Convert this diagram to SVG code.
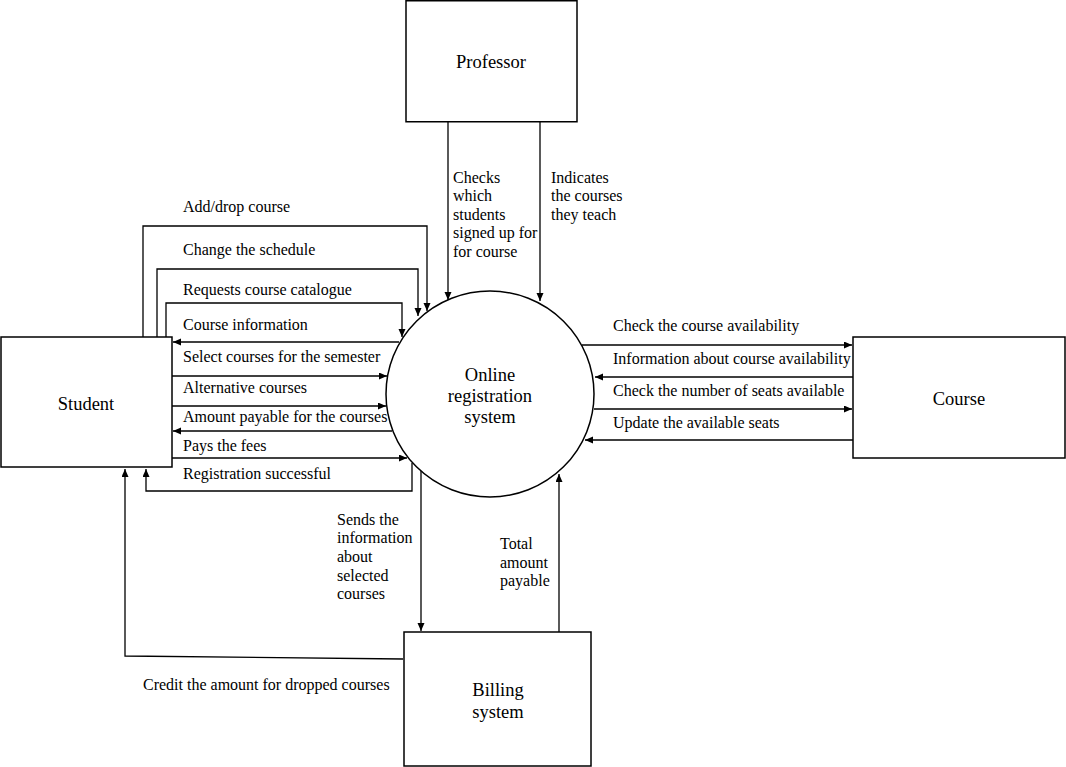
<svg xmlns="http://www.w3.org/2000/svg" width="1066" height="767" viewBox="0 0 1066 767">
<style>
.box{fill:#fff;stroke:#000;stroke-width:1.5}
.ln{fill:none;stroke:#000;stroke-width:1.3;marker-end:url(#ah)}
.nt{font-family:"Liberation Serif","Times New Roman",serif;font-size:18.5px;fill:#000;text-anchor:middle}
.lb{font-family:"Liberation Serif","Times New Roman",serif;font-size:16px;fill:#000}
</style>
<defs>
<marker id="ah" markerUnits="userSpaceOnUse" markerWidth="9" markerHeight="8" refX="8" refY="3.5" orient="auto">
<path d="M0,0 L8,3.5 L0,7 z" fill="#000"/>
</marker>
</defs>
<rect width="1066" height="767" fill="#fff"/>
<g id="connectors">
<path class="ln" d="M143,337 V226 H427 V311"/>
<path class="ln" d="M157,337 V269 H418 V316"/>
<path class="ln" d="M166,337 V303 H402 V337"/>
<path class="ln" d="M399,342 H173"/>
<path class="ln" d="M172,376 H387"/>
<path class="ln" d="M172,406 H386"/>
<path class="ln" d="M392,431 H173"/>
<path class="ln" d="M172,458 H407"/>
<path class="ln" d="M412,463 V491 H146 V469"/>
<path class="ln" d="M448,122 V300"/>
<path class="ln" d="M540,122 V301"/>
<path class="ln" d="M582,345 H852"/>
<path class="ln" d="M853,377 H595"/>
<path class="ln" d="M594,409 H852"/>
<path class="ln" d="M853,440 H585"/>
<path class="ln" d="M421,471 V631"/>
<path class="ln" d="M559,632 V474"/>
<path class="ln" d="M403,659 L125,656 V469"/>
<text class="lb" x="183" y="212">Add/drop course</text>
<text class="lb" x="183" y="255">Change the schedule</text>
<text class="lb" x="183" y="295">Requests course catalogue</text>
<text class="lb" x="183" y="330">Course information</text>
<text class="lb" x="183" y="362">Select courses for the semester</text>
<text class="lb" x="183" y="393">Alternative courses</text>
<text class="lb" x="183" y="422">Amount payable for the courses</text>
<text class="lb" x="183" y="451">Pays the fees</text>
<text class="lb" x="183" y="479">Registration successful</text>
<text class="lb" x="613" y="331">Check the course availability</text>
<text class="lb" x="613" y="364">Information about course availability</text>
<text class="lb" x="613" y="396">Check the number of seats available</text>
<text class="lb" x="613" y="428">Update the available seats</text>
<text class="lb" x="453" y="183">Checks</text>
<text class="lb" x="453" y="201">which</text>
<text class="lb" x="453" y="220">students</text>
<text class="lb" x="453" y="238">signed up for</text>
<text class="lb" x="453" y="257">for course</text>
<text class="lb" x="551" y="183">Indicates</text>
<text class="lb" x="551" y="201">the courses</text>
<text class="lb" x="551" y="220">they teach</text>
<text class="lb" x="337" y="525">Sends the</text>
<text class="lb" x="337" y="543">information</text>
<text class="lb" x="337" y="562">about</text>
<text class="lb" x="337" y="581">selected</text>
<text class="lb" x="337" y="599">courses</text>
<text class="lb" x="500" y="549">Total</text>
<text class="lb" x="500" y="568">amount</text>
<text class="lb" x="500" y="586">payable</text>
<text class="lb" x="143" y="690">Credit the amount for dropped courses</text>
</g>
<g id="professor">
<rect class="box" x="406" y="0.75" width="171" height="121"/>
<text class="nt" x="491" y="68">Professor</text>
</g>
<g id="student">
<rect class="box" x="1" y="337" width="171" height="130"/>
<text class="nt" x="86" y="410">Student</text>
</g>
<g id="system">
<ellipse class="box" cx="490" cy="394" rx="104" ry="103"/>
<text class="nt" x="490" y="381">Online</text>
<text class="nt" x="490" y="402">registration</text>
<text class="nt" x="490" y="423">system</text>
</g>
<g id="course">
<rect class="box" x="853" y="337" width="212" height="121"/>
<text class="nt" x="959" y="405">Course</text>
</g>
<g id="billing">
<rect class="box" x="404" y="632" width="187" height="134"/>
<text class="nt" x="498" y="696">Billing</text>
<text class="nt" x="498" y="718">system</text>
</g>
</svg>
